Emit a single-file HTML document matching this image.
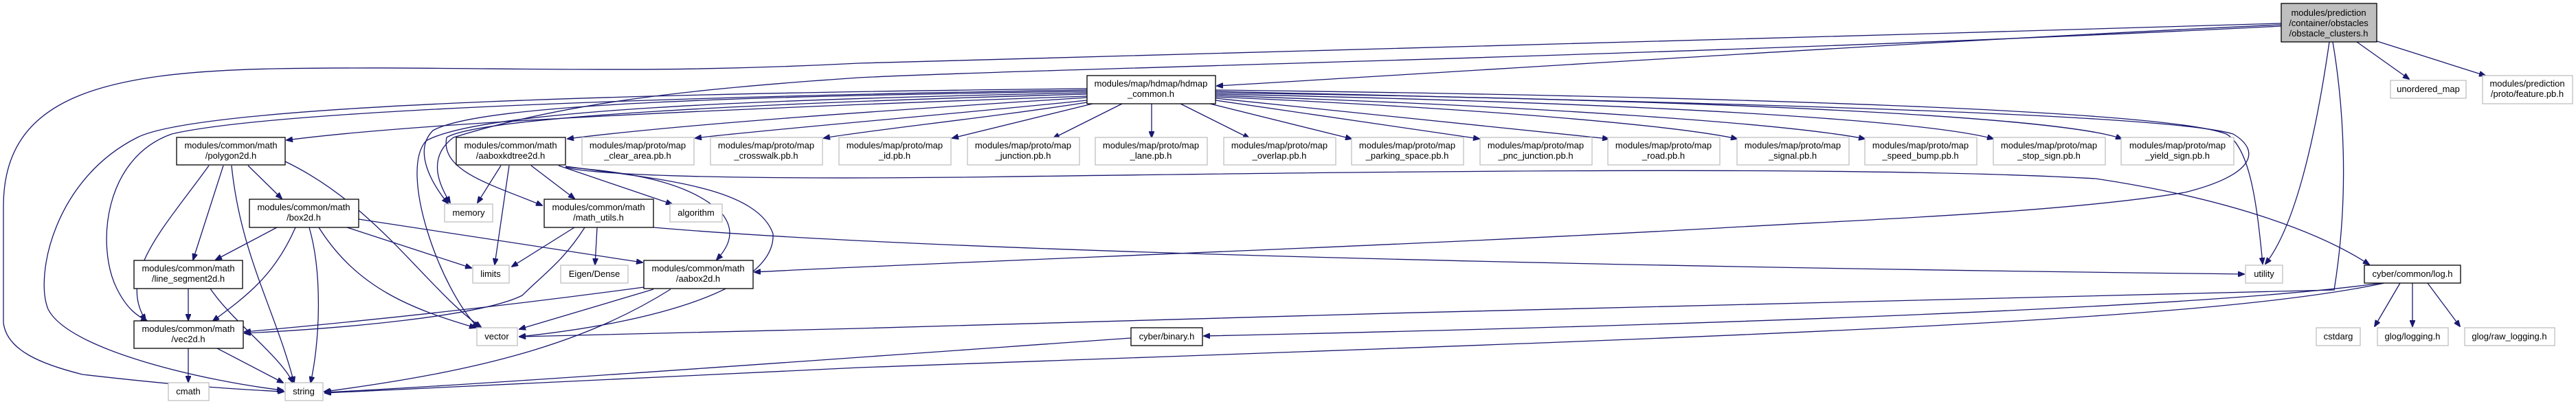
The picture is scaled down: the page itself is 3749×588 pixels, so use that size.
<!DOCTYPE html>
<html><head><meta charset="utf-8"><style>
html,body{margin:0;padding:0;background:#fff;}
svg{display:block;}
text{font-family:"Liberation Sans",Arial,sans-serif;font-size:13px;fill:#000;text-anchor:middle;}
.e{fill:none;stroke:#191970;stroke-width:1.3;marker-end:url(#ah);}
.n{fill:#fff;stroke:#000;stroke-width:1.3;}
.g{fill:#fff;stroke:#bfbfbf;stroke-width:1.3;}
</style></head><body>
<svg width="3749" height="588" viewBox="0 0 3749 588" xmlns="http://www.w3.org/2000/svg">
<defs><marker id="ah" markerWidth="10" markerHeight="8" refX="9" refY="4" orient="auto" markerUnits="userSpaceOnUse"><path d="M0,0 L10,4 L0,8 Z" fill="#191970" stroke="#191970"/></marker></defs>

<!-- edges -->
<path class="e" d="M3320,36 C2800,60 2200,100 1771,125"/>
<path class="e" d="M3320,34 C2500,60 1500,80 1250,92 C900,110 700,95 400,100 C150,105 5,140 5,300 L5,470 C10,510 60,530 120,545 C250,560 330,566 413,570"/>
<path class="e" d="M3320,38 C2500,80 1500,100 1250,113 C1000,130 820,150 660,200 C620,230 640,270 655,295"/>
<path class="e" d="M3390,61 C3370,200 3340,330 3297,384"/>
<path class="e" d="M3395,61 C3410,150 3420,280 3397,422 C3200,432 2000,452 1250,478 L756,490"/>
<path class="e" d="M3430,61 L3506,115"/>
<path class="e" d="M3450,57 L3617,110"/>

<path class="e" d="M1582,140 C1000,160 600,180 417,204"/>
<path class="e" d="M1582,142 C1300,160 1000,180 826,202"/>
<path class="e" d="M1582,146 C1400,165 1100,190 1012,201"/>
<path class="e" d="M1582,149 C1450,170 1260,190 1199,201"/>
<path class="e" d="M1590,151 L1386,201"/>
<path class="e" d="M1633,151 L1533,201"/>
<path class="e" d="M1676,151 L1676,200"/>
<path class="e" d="M1718,151 L1818,201"/>
<path class="e" d="M1761,151 L1967,202"/>
<path class="e" d="M1769,146 L2153,202"/>
<path class="e" d="M1769,143 L2341,202"/>
<path class="e" d="M1769,141 C2200,160 2450,185 2528,202"/>
<path class="e" d="M1769,139 C2250,155 2600,180 2714,202"/>
<path class="e" d="M1769,137 C2400,150 2800,175 2901,202"/>
<path class="e" d="M1769,135 C2500,145 3000,170 3088,202"/>
<path class="e" d="M1582,133 C1100,140 700,150 630,190 C600,220 630,270 652,296"/>
<path class="e" d="M1582,135 C1100,145 700,160 620,205 C580,250 640,420 696,477"/>
<path class="e" d="M1582,137 C1100,150 700,170 650,200 C640,250 720,270 789,299"/>
<path class="e" d="M1582,131 C1000,140 400,160 250,195 C150,230 140,360 170,420 C185,450 200,460 214,467"/>
<path class="e" d="M1582,129 C1000,135 300,150 200,200 C80,260 50,400 70,450 C100,510 300,555 412,568"/>
<path class="e" d="M1769,131 C2500,140 3150,160 3240,195 C3275,215 3285,300 3293,384"/>
<path class="e" d="M1769,133 C2500,150 3150,165 3250,195 C3292,220 3280,255 3180,280 C3000,310 2700,320 2500,332 C2000,360 1400,380 1098,396"/>

<path class="e" d="M729,241 L695,295"/>
<path class="e" d="M741,241 L720,385"/>
<path class="e" d="M773,241 L836,289"/>
<path class="e" d="M813,241 L978,297"/>
<path class="e" d="M823,243 C900,250 1000,260 1050,310 C1075,340 1055,365 1043,378"/>
<path class="e" d="M823,242 C950,260 1100,270 1125,340 C1130,420 950,470 756,490"/>
<path class="e" d="M823,244 C900,260 1200,260 1400,258 C2000,250 2700,240 3050,260 C3250,290 3380,340 3448,385"/>

<path class="e" d="M522,319 L935,382"/>
<path class="e" d="M403,331 L314,378"/>
<path class="e" d="M430,331 C400,400 360,430 310,467"/>
<path class="e" d="M450,331 C470,400 465,500 452,557"/>
<path class="e" d="M464,331 C520,420 600,450 692,477"/>
<path class="e" d="M505,331 L686,390"/>

<path class="e" d="M361,241 L410,289"/>
<path class="e" d="M325,241 L281,378"/>
<path class="e" d="M304,241 C240,330 170,400 212,466"/>
<path class="e" d="M337,241 C350,370 400,450 428,557"/>
<path class="e" d="M415,235 C550,300 620,420 700,476"/>

<path class="e" d="M274,420 L274,466"/>
<path class="e" d="M306,420 C340,470 410,520 426,557"/>
<path class="e" d="M274,507 L274,556"/>
<path class="e" d="M316,507 L412,557"/>
<path class="e" d="M836,331 L745,388"/>
<path class="e" d="M869,331 L866,385"/>
<path class="e" d="M851,331 C820,380 790,400 760,430 C700,460 500,478 356,485"/>
<path class="e" d="M951,331 C1400,370 2500,390 3266,399"/>
<path class="e" d="M937,418 C700,450 500,470 356,483"/>
<path class="e" d="M951,421 L756,479"/>
<path class="e" d="M976,421 C850,500 700,540 472,570"/>

<path class="e" d="M3493,412 L3456,475"/>
<path class="e" d="M3511,412 L3511,475"/>
<path class="e" d="M3533,412 L3580,475"/>
<path class="e" d="M3465,412 C3200,450 2400,475 1752,489"/>
<path class="e" d="M3470,412 C3200,470 2500,490 1250,535 C900,550 600,565 473,572"/>
<path class="e" d="M1646,492 C1250,520 700,560 473,571"/>

<!-- nodes -->
<rect x="3320" y="5" width="139" height="56" fill="#bfbfbf" stroke="#000" stroke-width="1.3"/>
<text x="3389" y="23">modules/prediction</text><text x="3389" y="38">/container/obstacles</text><text x="3389" y="53">/obstacle_clusters.h</text>

<rect class="n" x="1582" y="110" width="187" height="41"/><text x="1675" y="126">modules/map/hdmap/hdmap</text><text x="1675" y="141">_common.h</text>
<rect class="g" x="3479" y="117" width="110" height="26"/><text x="3534" y="134">unordered_map</text>
<rect class="g" x="3613" y="110" width="131" height="41"/><text x="3678" y="126">modules/prediction</text><text x="3678" y="141">/proto/feature.pb.h</text>

<rect class="n" x="257" y="200" width="158" height="40"/><text x="336" y="216">modules/common/math</text><text x="336" y="231">/polygon2d.h</text>
<rect class="n" x="664" y="200" width="159" height="40"/><text x="743" y="216">modules/common/math</text><text x="743" y="231">/aaboxkdtree2d.h</text>

<rect class="g" x="847" y="200" width="163" height="40"/><text x="928" y="216">modules/map/proto/map</text><text x="928" y="231">_clear_area.pb.h</text>
<rect class="g" x="1034" y="200" width="163" height="40"/><text x="1115" y="216">modules/map/proto/map</text><text x="1115" y="231">_crosswalk.pb.h</text>
<rect class="g" x="1221" y="200" width="163" height="40"/><text x="1302" y="216">modules/map/proto/map</text><text x="1302" y="231">_id.pb.h</text>
<rect class="g" x="1408" y="200" width="163" height="40"/><text x="1489" y="216">modules/map/proto/map</text><text x="1489" y="231">_junction.pb.h</text>
<rect class="g" x="1594" y="200" width="163" height="40"/><text x="1675" y="216">modules/map/proto/map</text><text x="1675" y="231">_lane.pb.h</text>
<rect class="g" x="1781" y="200" width="163" height="40"/><text x="1862" y="216">modules/map/proto/map</text><text x="1862" y="231">_overlap.pb.h</text>
<rect class="g" x="1967" y="200" width="163" height="40"/><text x="2048" y="216">modules/map/proto/map</text><text x="2048" y="231">_parking_space.pb.h</text>
<rect class="g" x="2154" y="200" width="163" height="40"/><text x="2235" y="216">modules/map/proto/map</text><text x="2235" y="231">_pnc_junction.pb.h</text>
<rect class="g" x="2340" y="200" width="163" height="40"/><text x="2421" y="216">modules/map/proto/map</text><text x="2421" y="231">_road.pb.h</text>
<rect class="g" x="2528" y="200" width="163" height="40"/><text x="2609" y="216">modules/map/proto/map</text><text x="2609" y="231">_signal.pb.h</text>
<rect class="g" x="2714" y="200" width="163" height="40"/><text x="2795" y="216">modules/map/proto/map</text><text x="2795" y="231">_speed_bump.pb.h</text>
<rect class="g" x="2901" y="200" width="163" height="40"/><text x="2982" y="216">modules/map/proto/map</text><text x="2982" y="231">_stop_sign.pb.h</text>
<rect class="g" x="3087" y="200" width="164" height="40"/><text x="3169" y="216">modules/map/proto/map</text><text x="3169" y="231">_yield_sign.pb.h</text>

<rect class="n" x="363" y="290" width="159" height="41"/><text x="442" y="306">modules/common/math</text><text x="442" y="321">/box2d.h</text>
<rect class="g" x="647" y="297" width="70" height="26"/><text x="682" y="314">memory</text>
<rect class="n" x="792" y="290" width="159" height="41"/><text x="871" y="306">modules/common/math</text><text x="871" y="321">/math_utils.h</text>
<rect class="g" x="975" y="297" width="76" height="26"/><text x="1013" y="314">algorithm</text>

<rect class="n" x="195" y="379" width="158" height="41"/><text x="274" y="395">modules/common/math</text><text x="274" y="410">/line_segment2d.h</text>
<rect class="g" x="688" y="386" width="53" height="26"/><text x="714" y="403">limits</text>
<rect class="g" x="816" y="386" width="98" height="26"/><text x="865" y="403">Eigen/Dense</text>
<rect class="n" x="937" y="379" width="159" height="41"/><text x="1016" y="395">modules/common/math</text><text x="1016" y="410">/aabox2d.h</text>
<rect class="g" x="3268" y="386" width="54" height="26"/><text x="3295" y="403">utility</text>
<rect class="n" x="3441" y="386" width="140" height="26"/><text x="3511" y="403">cyber/common/log.h</text>

<rect class="n" x="195" y="467" width="159" height="40"/><text x="274" y="483">modules/common/math</text><text x="274" y="498">/vec2d.h</text>
<rect class="g" x="694" y="477" width="59" height="26"/><text x="723" y="494">vector</text>
<rect class="n" x="1646" y="477" width="104" height="26"/><text x="1698" y="494">cyber/binary.h</text>
<rect class="g" x="3371" y="477" width="64" height="26"/><text x="3403" y="494">cstdarg</text>
<rect class="g" x="3460" y="477" width="103" height="26"/><text x="3511" y="494">glog/logging.h</text>
<rect class="g" x="3587" y="477" width="131" height="26"/><text x="3652" y="494">glog/raw_logging.h</text>

<rect class="g" x="245" y="557" width="59" height="26"/><text x="274" y="574">cmath</text>
<rect class="g" x="415" y="557" width="55" height="26"/><text x="442" y="574">string</text>
</svg>
</body></html>
